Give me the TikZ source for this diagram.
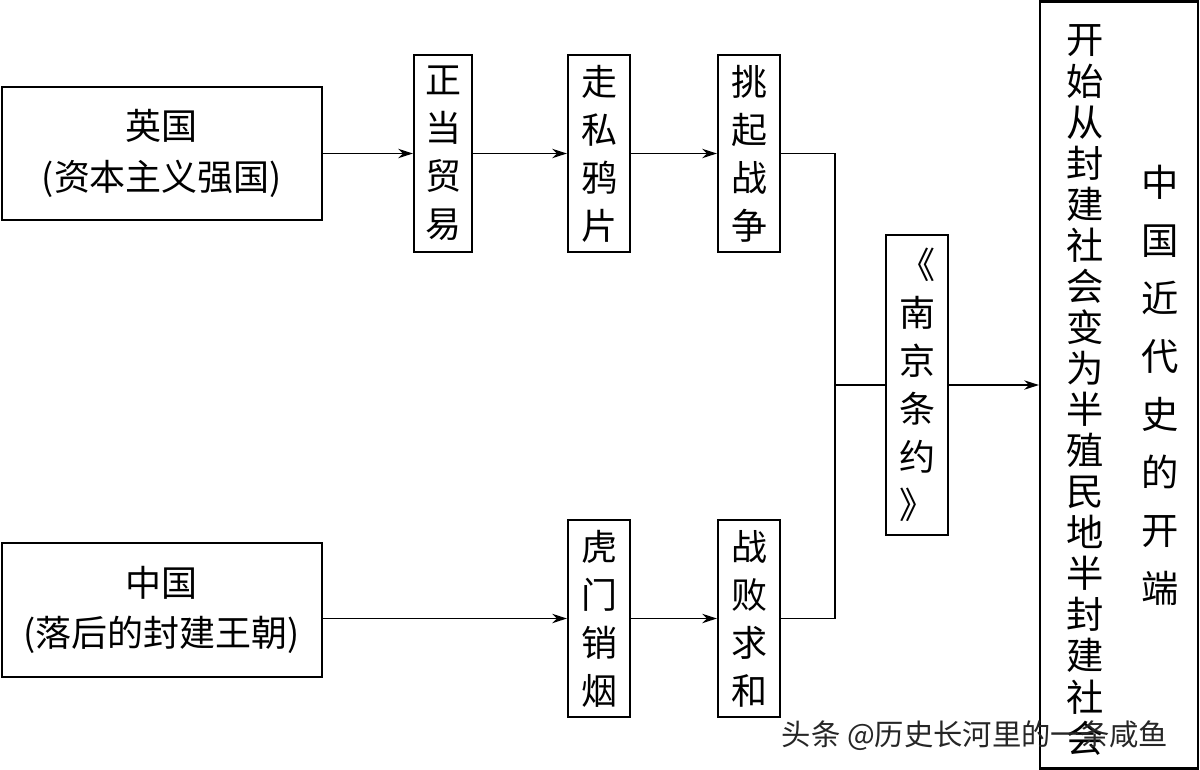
\documentclass[tikz,border=0pt]{standalone}
\usepackage{fontspec}
\newfontfamily\cjk{Noto Sans CJK SC}
\usetikzlibrary{arrows.meta}
\begin{document}
\begin{tikzpicture}[x=0.75pt,y=-0.75pt,
 box/.style={draw,line width=1.6pt,rectangle,inner sep=0pt,align=center,font=\cjk\fontsize{27}{38}\selectfont},
 vbox/.style={box,font=\cjk\fontsize{27}{36}\selectfont},
 arr/.style={line width=1.4pt,-{Stealth[length=11pt,width=7pt]}},
 ln/.style={line width=1.4pt}]
\useasboundingbox (0,0) rectangle (1200,769);
\node[box,minimum width=320*0.75pt,minimum height=133*0.75pt] (uk) at (162,153.5) {英国\\(资本主义强国)};
\node[box,minimum width=320*0.75pt,minimum height=134*0.75pt] (cn) at (162,610) {中国\\(落后的封建王朝)};
\node[vbox,minimum width=58*0.75pt,minimum height=197*0.75pt] (a1) at (443,153.5) {正\\当\\贸\\易};
\node[vbox,minimum width=62*0.75pt,minimum height=197*0.75pt] (a2) at (599,153.5) {走\\私\\鸦\\片};
\node[vbox,minimum width=62*0.75pt,minimum height=197*0.75pt] (a3) at (749,153.5) {挑\\起\\战\\争};
\node[vbox,minimum width=62*0.75pt,minimum height=197*0.75pt] (b2) at (599,618.5) {虎\\门\\销\\烟};
\node[vbox,minimum width=62*0.75pt,minimum height=197*0.75pt] (b3) at (749,618.5) {战\\败\\求\\和};
\node[box,font=\cjk\fontsize{27}{36}\selectfont,minimum width=62*0.75pt,minimum height=300*0.75pt] (nj) at (917,385) {《\\南\\京\\条\\约\\》};
\node[draw,line width=1.6pt,minimum width=158*0.75pt,minimum height=767*0.75pt,inner sep=0pt] (rt) at (1119,385) {};
\node[align=center,inner sep=0pt,font=\cjk\fontsize{28}{30.8}\selectfont] (t1) at (1085,390) {开\\始\\从\\封\\建\\社\\会\\变\\为\\半\\殖\\民\\地\\半\\封\\建\\社\\会};
\node[align=center,inner sep=0pt,font=\cjk\fontsize{28}{43.5}\selectfont] (t2) at (1160,385) {中\\国\\近\\代\\史\\的\\开\\端};
\coordinate (j) at (835,385);
\draw[arr] (uk.east) -- (a1.west);
\draw[arr] (a1.east) -- (a2.west);
\draw[arr] (a2.east) -- (a3.west);
\draw[arr] (cn.east|-b2) -- (b2.west);
\draw[arr] (b2.east) -- (b3.west);
\draw[ln] (a3.east) -| (j) |- (b3.east);
\draw[ln] (j) -- (nj.west);
\draw[arr] (nj.east) -- (rt.west|-nj);
\node[inner sep=0pt,font=\cjk\fontsize{22}{26}\selectfont,text=black!85] (wm) at (975,736) {头条 @历史长河里的一条咸鱼};
\end{tikzpicture}
\end{document}
